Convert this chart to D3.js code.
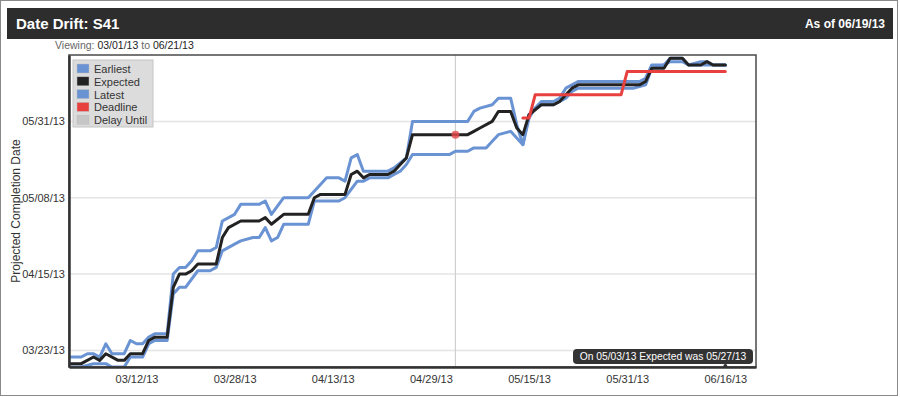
<html>
<head>
<meta charset="utf-8">
<script src="https://d3js.org/d3.v7.min.js"></script>
<style>
    body {
        margin: 0;
        background: #fff;
        font-family: Helvetica, "Liberation Sans", Arial, sans-serif;
    }
    .grid line {
        stroke: #e4e4e4;
        stroke-width: 1.5px;
    }
    .axis text {
        font-size: 11px;
        fill: #333;
    }
    .series {
        fill: none;
        stroke-width: 3px;
        stroke-linejoin: round;
        stroke-linecap: round;
    }
    .legend text {
        font-size: 11px;
        fill: #333;
    }
</style>
</head>
<body>
<svg width=900 height=397></svg>

<script>

    // projection history, [snapshot date, projected completion date], year 2013
    let earliest = [
        ['03/01','03/18'], ['03/03','03/18'], ['03/05','03/19'], ['03/06','03/19'], ['03/07','03/19'],
        ['03/08','03/18'], ['03/10','03/18'], ['03/11','03/21'], ['03/13','03/21'], ['03/14','03/25'],
        ['03/15','03/26'], ['03/17','03/26'], ['03/18','04/09'], ['03/19','04/11'], ['03/20','04/11'],
        ['03/22','04/16'], ['03/24','04/16'], ['03/25','04/17'], ['03/26','04/22'], ['03/28','04/24'],
        ['03/29','04/25'], ['03/31','04/26'], ['04/01','04/26'], ['04/02','04/29'], ['04/03','04/25'],
        ['04/04','04/26'], ['04/05','04/30'], ['04/09','04/30'], ['04/10','05/07'], ['04/14','05/07'],
        ['04/15','05/08'], ['04/17','05/13'], ['04/18','05/13'], ['04/19','05/14'], ['04/22','05/14'],
        ['04/23','05/15'], ['04/24','05/16'], ['04/25','05/18'], ['04/26','05/21'], ['05/02','05/21'],
        ['05/03','05/22'], ['05/05','05/22'], ['05/06','05/23'], ['05/08','05/23'], ['05/09','05/25'],
        ['05/10','05/27'], ['05/12','05/28'], ['05/13','05/26'], ['05/14','05/24'], ['05/15','06/02'],
        ['05/16','06/04'], ['05/17','06/05'], ['05/19','06/05'], ['05/20','06/06'], ['05/21','06/07'],
        ['05/22','06/09'], ['05/23','06/10'], ['06/01','06/10'], ['06/03','06/11'], ['06/04','06/16'],
        ['06/06','06/17'], ['06/07','06/18'], ['06/09','06/18'], ['06/10','06/17'], ['06/16','06/17']
    ];

    let expected = [
        ['03/01','03/19'], ['03/03','03/19'], ['03/05','03/21'], ['03/06','03/20'], ['03/07','03/22'],
        ['03/09','03/20'], ['03/10','03/20'], ['03/11','03/22'], ['03/13','03/22'], ['03/14','03/26'],
        ['03/15','03/27'], ['03/17','03/27'], ['03/18','04/11'], ['03/19','04/15'], ['03/20','04/15'],
        ['03/21','04/16'], ['03/22','04/18'], ['03/25','04/18'], ['03/26','04/26'], ['03/27','04/29'],
        ['03/29','05/01'], ['04/01','05/01'], ['04/02','05/02'], ['04/03','04/30'], ['04/05','05/03'],
        ['04/09','05/03'], ['04/10','05/08'], ['04/11','05/09'], ['04/15','05/09'], ['04/16','05/15'],
        ['04/17','05/16'], ['04/18','05/14'], ['04/19','05/15'], ['04/22','05/15'], ['04/23','05/16'],
        ['04/24','05/18'], ['04/25','05/20'], ['04/26','05/27'], ['05/05','05/27'], ['05/06','05/28'],
        ['05/07','05/29'], ['05/09','05/31'], ['05/10','06/03'], ['05/12','06/03'], ['05/13','05/29'],
        ['05/14','05/27'], ['05/15','06/02'], ['05/17','06/05'], ['05/19','06/05'], ['05/20','06/06'],
        ['05/21','06/08'], ['05/22','06/10'], ['05/23','06/11'], ['06/02','06/11'], ['06/03','06/12'],
        ['06/04','06/16'], ['06/06','06/16'], ['06/07','06/19'], ['06/09','06/19'], ['06/10','06/17'],
        ['06/12','06/17'], ['06/13','06/18'], ['06/14','06/17'], ['06/16','06/17']
    ];

    let latest = [
        ['03/01','03/21'], ['03/03','03/21'], ['03/04','03/22'], ['03/05','03/22'], ['03/06','03/21'],
        ['03/07','03/25'], ['03/08','03/22'], ['03/10','03/22'], ['03/11','03/26'], ['03/12','03/25'],
        ['03/13','03/25'], ['03/14','03/27'], ['03/15','03/28'], ['03/17','03/28'], ['03/18','04/15'],
        ['03/19','04/17'], ['03/20','04/17'], ['03/21','04/19'], ['03/22','04/22'], ['03/24','04/22'],
        ['03/25','04/23'], ['03/26','05/01'], ['03/28','05/03'], ['03/29','05/06'], ['04/01','05/06'],
        ['04/02','05/07'], ['04/03','05/03'], ['04/05','05/08'], ['04/09','05/08'], ['04/11','05/12'],
        ['04/12','05/14'], ['04/14','05/14'], ['04/15','05/13'], ['04/16','05/20'], ['04/17','05/21'],
        ['04/18','05/16'], ['04/22','05/16'], ['04/23','05/17'], ['04/25','05/20'], ['04/26','05/31'],
        ['05/05','05/31'], ['05/06','06/03'], ['05/07','06/04'], ['05/09','06/05'], ['05/10','06/07'],
        ['05/12','06/07'], ['05/13','05/30'], ['05/14','05/24'], ['05/15','06/01'], ['05/16','06/04'],
        ['05/17','06/06'], ['05/19','06/06'], ['05/20','06/07'], ['05/21','06/10'], ['05/23','06/12'],
        ['06/02','06/12'], ['06/03','06/13'], ['06/04','06/17'], ['06/06','06/17'], ['06/07','06/19'],
        ['06/09','06/19'], ['06/10','06/17'], ['06/12','06/18'], ['06/13','06/18'], ['06/14','06/17'],
        ['06/16','06/17']
    ];

    let deadline = [
        ['05/14','06/01'], ['05/15','06/01'], ['05/16','06/08'], ['05/30','06/08'],
        ['05/31','06/15'], ['06/16','06/15']
    ];

    let viewRange = ['03/01', '06/21'];
    let dateRange = ['03/18', '06/20'];
    let xTicks = ['03/12', '03/28', '04/13', '04/29', '05/15', '05/31', '06/16'];
    let yTicks = ['03/23', '04/15', '05/08', '05/31'];
    let hoverPoint = ['05/03', '05/27'];
    let asOf = '06/19';
    let lastSnapshot = '06/16';

    let legendItems = ['Earliest', 'Expected', 'Latest', 'Deadline', 'Delay Until'];
    let legendColors = ['#6a93d4', '#222222', '#6a93d4', '#e8403f', '#c6c6c6'];

    let parse = s => d3.utcParse('%m/%d/%y')(s + '/13');
    let fmt = d3.utcFormat('%m/%d/%y');

    let svg = d3.select('svg'),
        margin = { top: 55, right: 144, bottom: 30, left: 69 },
        width = +svg.attr('width') - margin.left - margin.right,
        height = +svg.attr('height') - margin.top - margin.bottom;

    // page frame and header
    svg.append('rect')
        .attr('x', 0.5).attr('y', 0.5)
        .attr('width', 897).attr('height', 395)
        .attr('fill', '#fff')
        .attr('stroke', '#8a8a8a');

    svg.append('rect')
        .attr('x', 7).attr('y', 8)
        .attr('width', 886).attr('height', 31)
        .attr('fill', '#2d2d2d');

    svg.append('text')
        .attr('x', 16).attr('y', 29)
        .attr('fill', '#fff')
        .attr('font-size', 15)
        .attr('font-weight', 'bold')
        .text('Date Drift: S41');

    svg.append('text')
        .attr('x', 885).attr('y', 28)
        .attr('fill', '#fff')
        .attr('font-size', 12)
        .attr('font-weight', 'bold')
        .attr('text-anchor', 'end')
        .text('As of ' + fmt(parse(asOf)));

    let viewing = svg.append('text')
        .attr('x', 55).attr('y', 48.5)
        .attr('font-size', 10.5)
        .attr('fill', '#666');
    viewing.append('tspan').text('Viewing: ');
    viewing.append('tspan').attr('fill', '#222').text(fmt(parse(viewRange[0])));
    viewing.append('tspan').text(' to ');
    viewing.append('tspan').attr('fill', '#222').text(fmt(parse(viewRange[1])));

    let x = d3.scaleUtc()
        .domain(viewRange.map(parse))
        .range([0, width]);

    let y = d3.scaleUtc()
        .domain(dateRange.map(parse))
        .range([height, 0]);

    let svgg = svg.append('g')
        .attr('transform', 'translate(' + margin.left + ',' + margin.top + ')');

    svgg.append('clipPath')
        .attr('id', 'plot-clip')
        .append('rect')
        .attr('width', width)
        .attr('height', height);

    // grid
    svgg.append('g')
        .attr('class', 'grid')
        .selectAll('line')
        .data(yTicks.map(parse))
        .enter()
        .append('line')
        .attr('x1', 0)
        .attr('x2', width)
        .attr('y1', d => y(d))
        .attr('y2', d => y(d));

    // hover guide
    svgg.append('line')
        .attr('x1', x(parse(hoverPoint[0])))
        .attr('x2', x(parse(hoverPoint[0])))
        .attr('y1', 0)
        .attr('y2', height)
        .attr('stroke', '#cfcfcf')
        .attr('stroke-width', 1.2);

    let lineGen = d3.line()
        .x(d => x(parse(d[0])))
        .y(d => y(parse(d[1])));

    let lines = svgg.append('g').attr('clip-path', 'url(#plot-clip)');

    lines.append('path')
        .attr('class', 'series')
        .attr('stroke', legendColors[2])
        .attr('d', lineGen(latest));

    lines.append('path')
        .attr('class', 'series')
        .attr('stroke', legendColors[0])
        .attr('d', lineGen(earliest));

    lines.append('path')
        .attr('class', 'series')
        .attr('stroke', legendColors[1])
        .attr('d', lineGen(expected));

    lines.append('path')
        .attr('class', 'series')
        .attr('stroke', legendColors[3])
        .attr('stroke-width', 2.5)
        .attr('stroke-linecap', 'butt')
        .attr('d', lineGen(deadline));

    svgg.append('circle')
        .attr('cx', x(parse(hoverPoint[0])))
        .attr('cy', y(parse(hoverPoint[1])))
        .attr('r', 4)
        .attr('fill', '#e84a4a')
        .attr('opacity', 0.8);

    // frame and axes
    svgg.append('rect')
        .attr('width', width)
        .attr('height', height)
        .attr('fill', 'none')
        .attr('stroke', '#4a4a4a')
        .attr('stroke-width', 1.5);

    let xAxis = svgg.append('g')
        .attr('class', 'axis')
        .attr('transform', 'translate(0,' + height + ')')
        .call(d3.axisBottom(x)
            .tickValues(xTicks.map(parse))
            .tickFormat(fmt)
            .tickSize(0)
            .tickPadding(8));
    xAxis.select('.domain').attr('stroke', '#333').attr('stroke-width', 2.5);

    let yAxis = svgg.append('g')
        .attr('class', 'axis')
        .call(d3.axisLeft(y)
            .tickValues(yTicks.map(parse))
            .tickFormat(fmt)
            .tickSize(0)
            .tickPadding(4));
    yAxis.select('.domain').attr('stroke', '#333').attr('stroke-width', 2.5);

    svgg.selectAll('.axis text').attr('font-family', null);

    svg.append('text')
        .attr('transform', 'translate(20,' + (margin.top + height / 2) + ') rotate(-90)')
        .attr('text-anchor', 'middle')
        .attr('font-size', 12)
        .attr('fill', '#333')
        .text('Projected Completion Date');

    svgg.append('circle')
        .attr('cx', x(parse(lastSnapshot)))
        .attr('cy', height - 1)
        .attr('r', 2)
        .attr('fill', '#333');

    // legend
    let legend = svgg.append('g')
        .attr('class', 'legend')
        .attr('transform', 'translate(4,5)');

    legend.append('rect')
        .attr('width', 80)
        .attr('height', 67)
        .attr('fill', '#dcdcdc')
        .attr('stroke', '#c4c4c4');

    let item = legend.selectAll('.item')
        .data(legendItems)
        .enter()
        .append('g')
        .attr('class', 'item')
        .attr('transform', (d, i) => 'translate(4,' + (4 + i * 12.8) + ')');

    item.append('rect')
        .attr('width', 12)
        .attr('height', 9)
        .attr('fill', (d, i) => legendColors[i])
        .attr('stroke', '#bbb')
        .attr('stroke-width', 0.5);

    item.append('text')
        .attr('x', 17)
        .attr('y', 9)
        .text(d => d);

    // tooltip
    let tip = svgg.append('g')
        .attr('transform', 'translate(' + (width - 183) + ',' + (height - 18) + ')');

    tip.append('rect')
        .attr('width', 180)
        .attr('height', 15)
        .attr('rx', 4)
        .attr('fill', '#333');

    tip.append('text')
        .attr('x', 90)
        .attr('y', 11.2)
        .attr('text-anchor', 'middle')
        .attr('font-size', 10.3)
        .attr('fill', '#fff')
        .text('On ' + fmt(parse(hoverPoint[0])) + ' Expected was ' + fmt(parse(hoverPoint[1])));

</script>
</body>
</html>
